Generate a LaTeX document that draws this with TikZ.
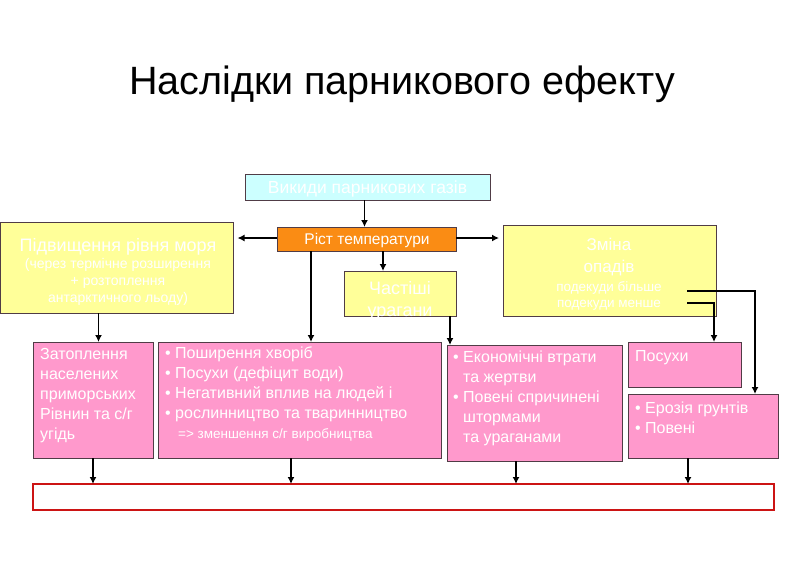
\documentclass[tikz,border=0pt]{standalone}
\usepackage{fontspec}
\setmainfont{Liberation Sans}
\usetikzlibrary{arrows.meta}
\definecolor{cyanbox}{RGB}{204,255,255}
\definecolor{orangebox}{RGB}{250,140,20}
\definecolor{yellowbox}{RGB}{255,255,153}
\definecolor{pinkbox}{RGB}{255,153,204}
\definecolor{redline}{RGB}{204,20,20}
\definecolor{edge}{RGB}{80,60,70}
\begin{document}
\begin{tikzpicture}[x=1pt,y=-1pt,
  box/.style={draw=edge,line width=0.8pt,inner sep=0pt,outer sep=0pt,anchor=north west},
  arr/.style={line width=1.8pt,-{Latex[length=7pt,width=7pt]}},
  wtext/.style={text=white,inner sep=0pt,anchor=base},
  ptext/.style={text=white,inner sep=0pt,align=left,anchor=north west,font=\fontsize{16}{20}\selectfont}]
\useasboundingbox (0,0) rectangle (794,581);
\fill[white] (0,0) rectangle (794,581);

\node[anchor=base,inner sep=0pt] (title) at (402,94.5) {\fontsize{39.5}{44}\selectfont Наслідки парникового ефекту};

\node[box,fill=cyanbox,minimum width=245pt,minimum height=26pt] (vykydy) at (245,174) {};
\node[box,fill=orangebox,minimum width=179pt,minimum height=24pt] (ristt) at (277,227) {};
\node[box,fill=yellowbox,minimum width=233pt,minimum height=91pt] (pidv) at (0.5,222) {};
\node[box,fill=yellowbox,minimum width=112pt,minimum height=45pt] (chast) at (344,271) {};
\node[box,fill=yellowbox,minimum width=213pt,minimum height=91pt] (zmina) at (503,225) {};
\node[box,fill=pinkbox,minimum width=120pt,minimum height=116pt] (zat) at (33,342) {};
\node[box,fill=pinkbox,minimum width=283pt,minimum height=116pt] (posh) at (158,342) {};
\node[box,fill=pinkbox,minimum width=175pt,minimum height=116pt] (ekon) at (447,345) {};
\node[box,fill=pinkbox,minimum width=113pt,minimum height=45pt] (posuh) at (628,342) {};
\node[box,fill=pinkbox,minimum width=150pt,minimum height=64pt] (eroz) at (628,394) {};
\node[box,draw=redline,line width=2pt,fill=white,minimum width=741pt,minimum height=26pt] (bottom) at (33,484) {};

% texts
\node[wtext,font=\fontsize{17.5}{20}\selectfont] (tvykydy) at (367.5,193) {Викиди парникових газів};
\node[wtext,font=\fontsize{15.5}{18}\selectfont] (tristt) at (367,244.5) {Ріст температури};

\node[wtext,font=\fontsize{18}{20}\selectfont] (tpidv1) at (118,251) {Підвищення рівня моря};
\node[wtext,font=\fontsize{14}{16}\selectfont] (tpidv2) at (118,268.5) {(через термічне розширення};
\node[wtext,font=\fontsize{14}{16}\selectfont] (tpidv3) at (118,285.5) {+ розтоплення};
\node[wtext,font=\fontsize{14}{16}\selectfont] (tpidv4) at (118,302.5) {антарктичного льоду)};

\node[wtext,font=\fontsize{18}{20}\selectfont] (tchast1) at (400,294.5) {Частіші};
\node[wtext,font=\fontsize{18}{20}\selectfont] (tchast2) at (400,316.5) {урагани};

\node[wtext,font=\fontsize{17}{20}\selectfont] (tzmina1) at (609,250.5) {Зміна};
\node[wtext,font=\fontsize{17}{20}\selectfont] (tzmina2) at (609,272) {опадів};
\node[wtext,font=\fontsize{13.5}{16}\selectfont] (tzmina3) at (609,291) {подекуди більше};
\node[wtext,font=\fontsize{13.5}{16}\selectfont] (tzmina4) at (609,307.5) {подекуди менше};

\node[ptext] (tzat) at (40,348) {Затоплення\\населених\\приморських\\Рівнин та с/г\\угідь};
\node[ptext] (tposh) at (165,347) {• Поширення хворіб\\• Посухи (дефіцит води)\\• Негативний вплив на людей і\\• рослинництво та тваринництво};
\node[wtext,anchor=base west,font=\fontsize{13.5}{16}\selectfont] (tposh5) at (178,438.5) {=> зменшення с/г виробництва};
\node[ptext] (tekon) at (453,351) {• Економічні втрати\\\hspace*{10pt}та жертви\\• Повені спричинені\\\hspace*{10pt}штормами\\\hspace*{10pt}та ураганами};
\node[ptext] (tposuh) at (635,350) {Посухи};
\node[ptext] (teroz) at (635,402) {• Ерозія грунтів\\• Повені};

% connectors
\draw[arr] ([xshift=-3pt]vykydy.south) -- ([xshift=-3pt]vykydy.south |- ristt.north);
\draw[arr,shorten >=4pt] ([yshift=1pt]ristt.west) -- ([yshift=1pt]ristt.west -| pidv.east);
\draw[arr,shorten >=4pt] ([yshift=1pt]ristt.east) -- ([yshift=1pt]ristt.east -| zmina.west);
\draw[arr] ([xshift=16.5pt]ristt.south) -- ([xshift=16.5pt]ristt.south |- chast.north);
\draw[arr] ([xshift=-55.5pt]ristt.south) -- ([xshift=-55.5pt]ristt.south |- posh.north);
\draw[arr] ([xshift=50pt]chast.south) -- ([xshift=50pt]chast.south |- ekon.north);
\draw[arr] ([xshift=-18.5pt]pidv.south) -- ([xshift=-18.5pt]pidv.south |- zat.north);
\draw[arr] ([xshift=-29pt,yshift=-32.5pt]zmina.east) -| ([xshift=29.5pt]posuh.north);
\draw[arr] ([xshift=-29pt,yshift=-20.5pt]zmina.east) -| ([xshift=52pt]eroz.north);

\draw[arr] (zat.south) -- (zat.south |- bottom.north);
\draw[arr] ([xshift=-8.5pt]posh.south) -- ([xshift=-8.5pt]posh.south |- bottom.north);
\draw[arr] ([xshift=-18.5pt]ekon.south) -- ([xshift=-18.5pt]ekon.south |- bottom.north);
\draw[arr] ([xshift=-15pt]eroz.south) -- ([xshift=-15pt]eroz.south |- bottom.north);
\end{tikzpicture}
\end{document}
